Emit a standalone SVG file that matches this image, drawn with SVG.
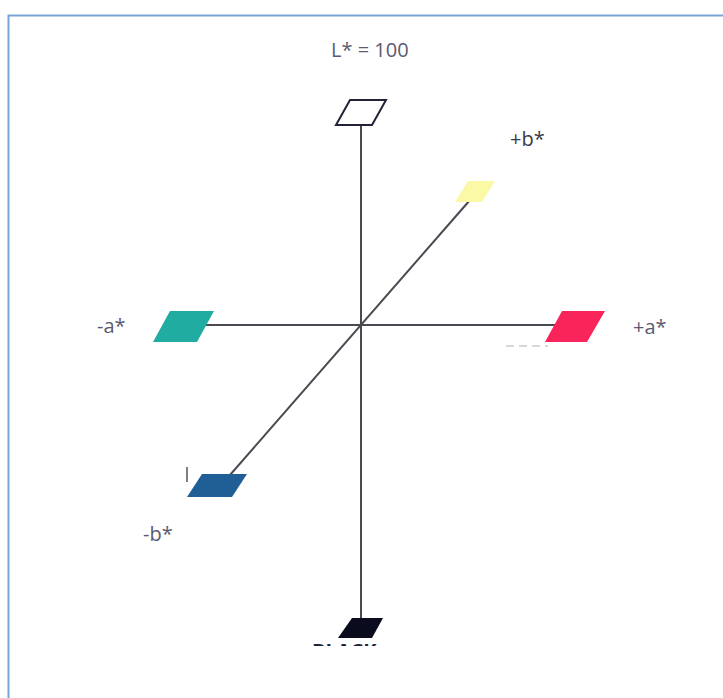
<svg xmlns="http://www.w3.org/2000/svg" width="723" height="698" viewBox="0 0 723 698">
<style>
.lbl{font-family:"Open Sans","Liberation Sans",sans-serif;font-size:20px;fill:#5a5a72}
.ax{stroke:#4a4a52;stroke-width:2;fill:none}
</style>
<defs><clipPath id="cb"><rect x="300" y="630" width="120" height="16"/></clipPath></defs>
<rect x="0" y="0" width="723" height="698" fill="#fff"/>
<path d="M8.5,700 V15.5 H730" fill="none" stroke="#7aa4d6" stroke-width="2"/>
<g id="connectors">
<line class="ax" x1="361" y1="125" x2="361" y2="618"/>
<line class="ax" x1="200" y1="325" x2="560" y2="325"/>
<line class="ax" x1="470" y1="200" x2="230" y2="475"/>
<line x1="506" y1="346" x2="548" y2="346" stroke="#ccc" stroke-width="1.5" stroke-dasharray="8,5"/>
<line x1="187" y1="467" x2="187" y2="482" stroke="#555" stroke-width="1.5"/>
</g>
<g id="white"><polygon points="350,100 386,100 372,125 336,125" fill="#fff" stroke="#222238" stroke-width="2"/><text class="lbl" x="331" y="57">L* = 100</text></g>
<g id="yellow"><polygon points="468,181 495,181 482,202 455,202" fill="#fbf9a6"/><text class="lbl" x="510" y="146" style="fill:#3a3a48">+b*</text></g>
<g id="teal"><polygon points="170,311 214,311 197,342 153,342" fill="#20aca0"/><text class="lbl" x="97" y="333">-a*</text></g>
<g id="red"><polygon points="562,311 605,311 587,342 545,342" fill="#f8245a"/><text class="lbl" x="633" y="334">+a*</text></g>
<g id="blue"><polygon points="202,474 247,474 232,497 187,497" fill="#1f5f96"/><text class="lbl" x="143" y="541">-b*</text></g>
<g id="black"><polygon points="352,618 383,618 372,638 338,638" fill="#0b0b1e"/><text clip-path="url(#cb)" x="312" y="658" style="font-family:'Open Sans','Liberation Sans',sans-serif;font-size:20px;font-weight:bold;fill:#222238">BLACK</text></g>
</svg>
